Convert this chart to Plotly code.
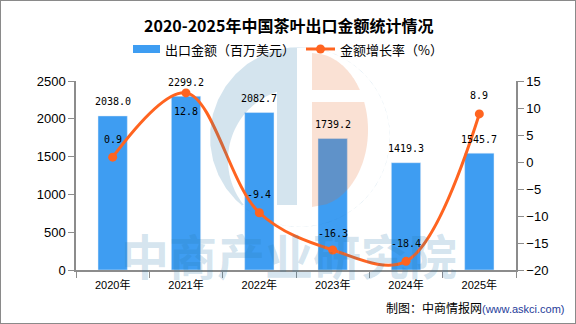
import numpy as np
import plotly.graph_objects as go

# ---- data ----
years = ["2020年", "2021年", "2022年", "2023年", "2024年", "2025年"]
export_value = [2038.0, 2299.2, 2082.7, 1739.2, 1419.3, 1545.7]
growth_rate = [0.9, 12.8, -9.4, -16.3, -18.4, 8.9]
bar_name = "出口金额（百万美元）"
line_name = "金额增长率（%）"
title_text = "2020-2025年中国茶叶出口金额统计情况"
left_ticks = [0, 500, 1000, 1500, 2000, 2500]
right_ticks = [-20, -15, -10, -5, 0, 5, 10, 15]

# ---- style ----
W, H = 576, 324
L, R, T, B = 76, 516, 81, 270
BAR_C = "#3E9DF2"
LINE_C = "#FF6420"
AX_C = "#8c8c8c"
growth_label_shift = [18, -19, 18, 17, 18, 18]


def px(x):
    return (x - L) / (R - L)


def py(y):
    return (B - y) / (B - T)


def path_from(points):
    s = "M " + " L ".join(f"{px(x):.5f},{py(y):.5f}" for x, y in points) + " Z"
    return s


fig = go.Figure()
fig.add_trace(go.Bar(x=years, y=export_value, marker_color=BAR_C, width=0.4,
                     name=bar_name, showlegend=False, hoverinfo="skip"))
fig.add_trace(go.Scatter(x=years, y=growth_rate, yaxis="y2", mode="lines+markers",
                         line=dict(color=LINE_C, width=3, shape="spline", smoothing=1.0),
                         marker=dict(color=LINE_C, size=9),
                         name=line_name, showlegend=False, hoverinfo="skip"))

shapes = []
# ---- watermark logo (blue C + bar) ----
cx, cy, Ro = 300, 137, 90
icx, icy, ri = 300, 160, 72
ybot = 205
pts = []
top_y = cy - np.sqrt(Ro**2 - (297 - cx) ** 2)
pts.append((297, top_y))
a0 = np.arctan2(top_y - cy, 297 - cx)
xb = cx - np.sqrt(Ro**2 - (ybot - cy) ** 2)
a1 = np.arctan2(ybot - cy, xb - cx) + 2 * np.pi
for a in np.linspace(a0, a1, 60):
    pts.append((cx + Ro * np.cos(a), cy + Ro * np.sin(a)))
xi = icx - np.sqrt(ri**2 - (ybot - icy) ** 2)
pts.append((xi, ybot))
b0 = np.arctan2(ybot - icy, xi - icx)
yt = icy - np.sqrt(ri**2 - (277 - icx) ** 2)
b1 = np.arctan2(yt - icy, 277 - icx) + 2 * np.pi
for a in np.linspace(b0, b1, 50):
    pts.append((icx + ri * np.cos(a), icy + ri * np.sin(a)))
pts.append((277, ybot))
pts.append((297, ybot))
shapes.append(dict(type="path", xref="paper", yref="paper", path=path_from(pts),
                   fillcolor="rgba(40,120,170,0.2)", line=dict(width=0), layer="above"))
# orange half ellipse split by a white stripe
ecx, ecy, erx, ery = 312, 130, 56, 77
for y0, y1 in [(ecy - ery, 90), (102, ecy + ery)]:
    ys = np.linspace(y0, y1, 40)
    p = [(ecx, y0)]
    for yy in ys:
        t = max(0.0, 1 - ((yy - ecy) / ery) ** 2)
        p.append((ecx + erx * np.sqrt(t), yy))
    p.append((ecx, y1))
    shapes.append(dict(type="path", xref="paper", yref="paper", path=path_from(p),
                       fillcolor="rgba(230,103,42,0.2)", line=dict(width=0), layer="above"))

# ---- legend (drawn) ----
shapes.append(dict(type="rect", xref="paper", yref="paper", x0=px(133), x1=px(160),
                   y0=py(53), y1=py(45), fillcolor=BAR_C, line=dict(width=0)))
shapes.append(dict(type="line", xref="paper", yref="paper", x0=px(306), x1=px(335),
                   y0=py(49), y1=py(49), line=dict(color=LINE_C, width=3)))
shapes.append(dict(type="circle", xref="paper", yref="paper", x0=px(316), x1=px(325),
                   y0=py(53.5), y1=py(44.5), fillcolor=LINE_C, line=dict(width=0)))
# ---- outer border ----
shapes.append(dict(type="rect", xref="paper", yref="paper", x0=px(0), x1=px(W),
                   y0=py(H), y1=py(0), line=dict(color="#8a8a8a", width=2)))

ann = []
ann.append(dict(text=title_text, xref="paper", yref="paper", x=px(288), y=py(25),
                showarrow=False, xanchor="center", yanchor="middle",
                font=dict(family="Noto Sans CJK SC", size=16, color="#000", weight="bold")))
ann.append(dict(text=bar_name, xref="paper", yref="paper", x=px(163), y=py(49),
                showarrow=False, xanchor="left", yanchor="middle",
                font=dict(family="Noto Sans CJK SC", size=13, color="#000")))
ann.append(dict(text=line_name, xref="paper", yref="paper", x=px(338), y=py(49),
                showarrow=False, xanchor="left", yanchor="middle",
                font=dict(family="Noto Sans CJK SC", size=13, color="#000")))
for c, v in zip(years, export_value):
    ann.append(dict(text=f"{v:.1f}", x=c, y=v, xref="x", yref="y", yshift=14,
                    showarrow=False, xanchor="center", yanchor="middle",
                    font=dict(family="DejaVu Sans Mono", size=10, color="#000")))
for c, g, s in zip(years, growth_rate, growth_label_shift):
    ann.append(dict(text=f"{g:.1f}", x=c, y=g, xref="x", yref="y2", yshift=s,
                    showarrow=False, xanchor="center", yanchor="middle",
                    font=dict(family="DejaVu Sans Mono", size=10, color="#000")))
ann.append(dict(text="中商产业研究院", xref="paper", yref="paper", x=px(289), y=py(254),
                showarrow=False, xanchor="center", yanchor="middle",
                font=dict(family="Noto Sans CJK SC", size=48, color="rgba(40,120,170,0.2)",
                          weight="bold")))
ann.append(dict(text='制图：中商情报网<span style="font-family:Liberation Sans;font-size:11px;color:#1f3c9a">(www.askci.com)</span>',
                xref="paper", yref="paper", x=px(567), y=py(307),
                showarrow=False, xanchor="right", yanchor="middle",
                font=dict(family="Noto Sans CJK SC", size=12, color="#000")))

fig.update_layout(
    width=W, height=H,
    margin=dict(l=L, r=W - R, t=T, b=H - B, pad=0),
    paper_bgcolor="white", plot_bgcolor="white",
    showlegend=False,
    bargap=0.6,
    shapes=shapes, annotations=ann,
    xaxis=dict(type="category", categoryorder="array", categoryarray=years,
               showline=True, linecolor=AX_C, linewidth=1.5,
               ticks="outside", tickson="boundaries", ticklen=6, tickcolor=AX_C,
               ticklabelstandoff=4,
               tickfont=dict(family="Liberation Sans, Noto Sans CJK SC", size=11, color="#000"),
               showgrid=False, zeroline=False, fixedrange=True),
    yaxis=dict(range=[0, 2500], tickvals=left_ticks, showline=True, linecolor=AX_C, linewidth=1.5,
               ticks="outside", ticklen=6, tickcolor=AX_C, showgrid=False, zeroline=False,
               tickfont=dict(family="Liberation Sans", size=13, color="#000")),
    yaxis2=dict(range=[-20, 15], tickvals=right_ticks, overlaying="y", side="right",
                showline=True, linecolor=AX_C, linewidth=1.5, ticks="outside", ticklen=6,
                tickcolor=AX_C, showgrid=False, zeroline=False,
                tickfont=dict(family="Liberation Sans", size=13, color="#000")),
)

fig.write_html("out.html")
